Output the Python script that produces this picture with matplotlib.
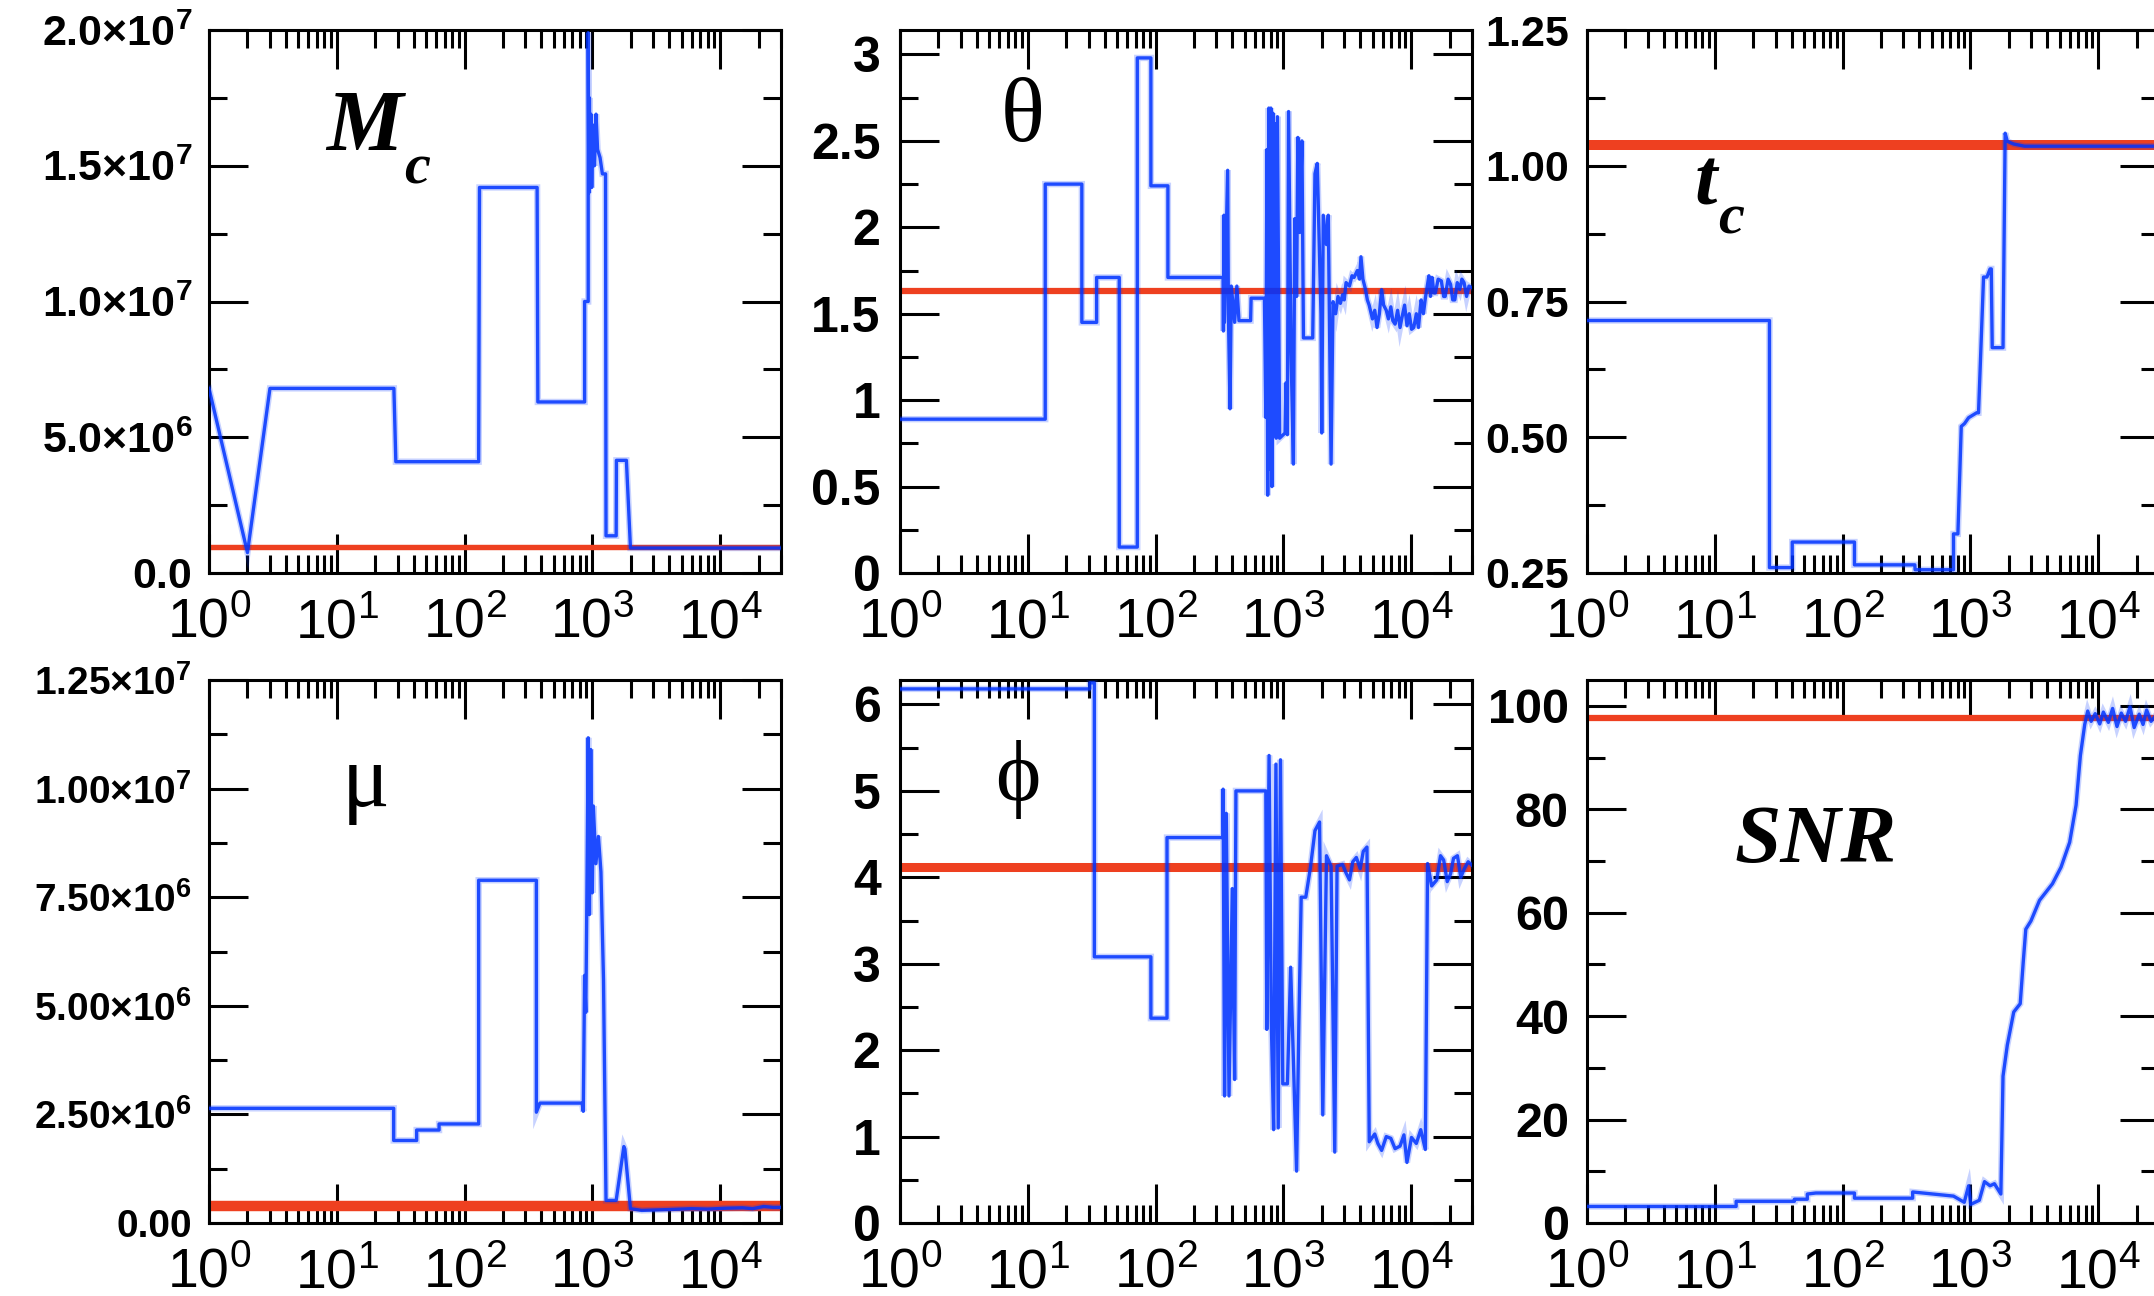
import matplotlib
matplotlib.use("Agg")
import numpy as np
import matplotlib.pyplot as plt
from matplotlib.ticker import FixedLocator, MultipleLocator, LogLocator, NullFormatter

plt.rcParams["font.family"] = ["Liberation Sans", "DejaVu Sans"]
plt.rcParams["mathtext.default"] = "regular"

W, H = 2154, 1296
BLUE = "#0033ff"
RED = "#ee4020"

# iteration axis, shared by all panels
XMIN, XMAX = 1, 3e4
XTICKS = [1, 10, 100, 1000, 10000]
XTICKLABELS = [r"$10^{0}$", r"$10^{1}$", r"$10^{2}$", r"$10^{3}$", r"$10^{4}$"]

# chirp mass (units of 1e6)
mc_x = [1, 2.0, 3.0, 28, 29, 129, 131, 370, 375, 871, 871, 929, 929, 940, 950, 960,
        975, 990, 1010, 1040, 1070, 1100, 1150, 1200, 1270, 1281, 1538, 1545, 1849,
        1990, 30000]
mc_y = [6.8, 0.75, 6.8, 6.8, 4.1, 4.1, 14.2, 14.2, 6.3, 6.3, 10.0, 10.0, 19.9, 14.0,
        17.5, 14.5, 16.9, 14.2, 16.5, 15.0, 16.9, 15.6, 15.3, 14.7, 14.7, 1.37, 1.37,
        4.15, 4.15, 0.92, 0.92]
mc_true = 0.95

# theta
th_x = [1, 13.7, 13.7, 26.5, 26.5, 34.6, 34.6, 52, 52, 72, 72, 92, 92, 125, 125, 338,
        340, 343, 346, 367, 372, 383, 392, 416, 433, 450, 555, 560, 712, 730, 745, 755,
        770, 785, 800, 815, 830, 845, 860, 880, 900, 936, 1033, 1050, 1077, 1100, 1150,
        1200, 1230, 1271, 1300, 1346, 1400, 1438, 1700, 1770, 1845, 1972, 2000, 2055,
        2178, 2250, 2366, 2450, 2570, 2680, 2800, 2911, 3000, 3100, 3297, 3450, 3581,
        3800, 3950, 4055, 4200, 4403, 4550, 4700, 4987, 5200, 5418, 5650, 5885, 6100,
        6400, 6650, 6947, 7200, 7500, 7850, 8200, 8500, 8900, 9300, 9680, 10100, 10500,
        11000, 11430, 11800, 12000, 12500, 12940, 13400, 13800, 14200, 14630, 15100,
        15500, 16300, 17270, 18000, 18500, 19500, 20390, 21200, 22000, 23000, 24070,
        25000, 26000, 27200, 28400, 30000]
th_y = [0.89, 0.89, 2.25, 2.25, 1.45, 1.45, 1.71, 1.71, 0.15, 0.15, 2.98, 2.98, 2.24,
        2.24, 1.71, 1.71, 1.40, 2.07, 1.45, 2.33, 1.50, 0.95, 1.66, 1.45, 1.66, 1.46,
        1.46, 1.59, 1.59, 0.90, 2.45, 0.45, 2.69, 0.60, 2.69, 0.50, 2.66, 0.80, 2.60,
        0.78, 2.64, 0.78, 0.81, 1.10, 0.80, 2.67, 1.28, 0.63, 2.05, 1.60, 2.52, 1.97,
        2.50, 1.36, 1.36, 2.31, 2.37, 1.50, 0.81, 2.07, 1.90, 2.07, 0.63, 1.57, 1.50,
        1.60, 1.56, 1.61, 1.58, 1.68, 1.66, 1.72, 1.71, 1.75, 1.70, 1.83, 1.70, 1.64,
        1.58, 1.55, 1.47, 1.52, 1.42, 1.50, 1.64, 1.55, 1.52, 1.47, 1.54, 1.46, 1.44,
        1.52, 1.42, 1.48, 1.55, 1.43, 1.50, 1.41, 1.42, 1.50, 1.42, 1.53, 1.58, 1.50,
        1.59, 1.66, 1.72, 1.60, 1.71, 1.62, 1.62, 1.70, 1.69, 1.60, 1.60, 1.70, 1.67,
        1.58, 1.58, 1.68, 1.64, 1.70, 1.68, 1.60, 1.66, 1.65]
th_true = 1.63

# coalescence time
tc_x = [1, 26.8, 26.8, 40.4, 40.4, 124, 124, 368, 370, 739, 739, 800, 850, 900, 970,
        1120, 1160, 1270, 1350, 1428, 1460, 1485, 1804, 1875, 1949, 2188, 2656, 30000]
tc_y = [0.715, 0.715, 0.260, 0.260, 0.307, 0.307, 0.265, 0.265, 0.256, 0.256, 0.322,
        0.322, 0.52, 0.525, 0.536, 0.545, 0.545, 0.795, 0.795, 0.81, 0.81, 0.665, 0.665,
        1.06, 1.045, 1.040, 1.036, 1.036]
tc_true = 1.039

# reduced mass (units of 1e6)
mu_x = [1, 27.9, 27.9, 42.2, 42.2, 63.2, 63.2, 129, 129, 365, 365, 389, 832, 850, 871,
        890, 904, 929, 950, 973, 1000, 1019, 1067, 1117, 1169, 1224, 1281, 1538, 1766,
        1800, 1990, 2434, 4000, 6000, 8000, 11000, 15000, 18000, 22000, 26000, 30000]
mu_y = [2.64, 2.64, 1.90, 1.90, 2.14, 2.14, 2.28, 2.28, 7.89, 7.89, 2.55, 2.76, 2.76,
        2.57, 5.7, 4.85, 7.0, 11.17, 7.1, 10.9, 7.6, 9.6, 8.27, 8.9, 8.08, 5.6, 0.52,
        0.52, 1.76, 1.70, 0.33, 0.29, 0.31, 0.33, 0.32, 0.34, 0.35, 0.33, 0.38, 0.36,
        0.36]
mu_true = 0.40

# phase
ph_x = [1, 30.6, 30.6, 33.2, 33.2, 92, 92, 123, 123, 338, 338, 347, 358, 376, 399, 416,
        426, 730, 743, 774, 806, 840, 876, 913, 951, 991, 1077, 1142, 1199, 1271, 1325,
        1381, 1500, 1630, 1770, 1923, 2038, 2178, 2366, 2529, 2636, 2911, 3100, 3297,
        3500, 3733, 4000, 4226, 4518, 4707, 5199, 5500, 5885, 6400, 6947, 7500, 8200,
        8800, 9288, 10080, 11000, 11910, 12940, 13470, 14500, 15900, 17000, 18000,
        19200, 20390, 21500, 23080, 24500, 26140, 28000, 30000]
ph_y = [6.18, 6.18, 6.25, 6.25, 3.08, 3.08, 2.37, 2.37, 4.46, 4.46, 5.02, 1.47, 4.74,
        1.47, 3.87, 1.66, 5.0, 5.0, 2.24, 5.41, 2.33, 1.08, 5.31, 1.10, 5.36, 1.61, 1.61,
        2.96, 1.90, 0.60, 2.33, 3.77, 3.77, 4.11, 4.54, 4.64, 1.25, 4.25, 4.13, 0.82,
        4.13, 4.15, 4.05, 3.97, 4.18, 4.23, 4.10, 4.30, 4.35, 0.94, 1.03, 0.92, 0.84,
        1.00, 0.98, 0.86, 0.89, 1.02, 0.70, 0.99, 0.92, 1.08, 0.85, 4.16, 3.90, 3.97,
        4.25, 4.20, 3.95, 4.04, 4.22, 4.25, 4.00, 4.10, 4.18, 4.14]
ph_true = 4.12

# signal-to-noise ratio
snr_x = [1, 14.7, 14.7, 42, 42, 53, 53, 61.8, 124, 124, 354, 354, 739, 897, 970, 1007,
         1177, 1292, 1428, 1545, 1735, 1804, 1949, 2188, 2459, 2596, 2719, 2983, 3484,
         4397, 5131, 5994, 6730, 7275, 7866, 8300, 8835, 9500, 10310, 11000, 12050,
         13000, 14070, 15200, 16420, 17800, 19180, 21000, 22500, 24000, 26000, 28000,
         30000]
snr_y = [3.2, 3.2, 4.2, 4.2, 4.6, 4.6, 5.6, 5.8, 5.8, 4.8, 4.8, 6.0, 5.2, 4.0, 7.2, 3.6,
         4.4, 8.0, 7.2, 7.6, 5.6, 28.4, 34.4, 40.8, 42.4, 50.4, 56.8, 58.4, 62.4, 65.6,
         68.8, 73.6, 80.8, 90.4, 96.4, 99.0, 97.0, 98.5, 96.5, 98.8, 96.8, 99.5, 96.0,
         98.6, 97.0, 99.8, 95.8, 98.4, 96.4, 99.2, 97.0, 98.0, 97.3]
snr_true = 97.6

fig = plt.figure(figsize=(W / 100, H / 100), dpi=100)


def add_panel(left, top, width=572, height=543):
    return fig.add_axes([left / W, 1 - (top + height) / H, width / W, height / H])


def style_panel(ax, ylim, yticks, ylabels, yminor, ysize, yweight, ypad):
    ax.set_xscale("log")
    ax.set_xlim(XMIN, XMAX)
    ax.xaxis.set_major_locator(FixedLocator(XTICKS))
    ax.xaxis.set_minor_locator(LogLocator(base=10, subs=range(2, 10), numticks=50))
    ax.xaxis.set_minor_formatter(NullFormatter())
    ax.set_xticklabels(XTICKLABELS)
    ax.set_ylim(*ylim)
    ax.yaxis.set_major_locator(FixedLocator(yticks))
    ax.yaxis.set_minor_locator(MultipleLocator(yminor))
    ax.set_yticklabels(ylabels, fontsize=ysize, fontweight=yweight)
    ax.tick_params(which="both", direction="in", top=True, right=True, width=2.2)
    ax.tick_params(which="major", length=28)
    ax.tick_params(which="minor", length=13)
    ax.tick_params(axis="x", labelsize=40, pad=18)
    ax.tick_params(axis="y", pad=ypad)
    for s in ax.spines.values():
        s.set_linewidth(2.2)


def draw(ax, x, y, true_val, red_lw):
    ax.axhline(true_val, color=RED, lw=red_lw, zorder=2)
    # soft edge around the chain trace
    ax.plot(x, y, color=BLUE, lw=4.6, alpha=0.22, zorder=3, solid_joinstyle="miter")
    ax.plot(x, y, color=BLUE, lw=2.4, alpha=0.85, zorder=4)


serif = ["Liberation Serif", "DejaVu Serif"]

# M_c
ax = add_panel(209, 30)
draw(ax, mc_x, np.array(mc_y) * 1e6, mc_true * 1e6, 3.9)
style_panel(ax, (0, 2e7), [0, 5e6, 1e7, 1.5e7, 2e7],
            ["0.0", r"$5.0{×}10^{6}$", r"$1.0{×}10^{7}$", r"$1.5{×}10^{7}$", r"$2.0{×}10^{7}$"],
            2.5e6, 31, "bold", 12)
ax.text(0.272, 0.779, "M", transform=ax.transAxes, ha="center", va="baseline",
        fontsize=62, family=serif, style="italic", weight="bold")
ax.text(0.364, 0.718, "c", transform=ax.transAxes, ha="center", va="baseline",
        fontsize=42, family=serif, style="italic", weight="bold")

# theta
ax = add_panel(900, 30)
draw(ax, th_x, th_y, th_true, 4.5)
style_panel(ax, (0, np.pi), [0, 0.5, 1, 1.5, 2, 2.5, 3],
            ["0", "0.5", "1", "1.5", "2", "2.5", "3"], 0.25, 36, "bold", 14)
ax.text(0.214, 0.796, "θ", transform=ax.transAxes, ha="center", va="baseline",
        fontsize=66, family=serif)

# t_c
ax = add_panel(1587, 30)
draw(ax, tc_x, tc_y, tc_true, 7.2)
style_panel(ax, (0.25, 1.25), [0.25, 0.5, 0.75, 1.0, 1.25],
            ["0.25", "0.50", "0.75", "1.00", "1.25"], 0.125, 31, "bold", 13)
ax.text(0.208, 0.678, "t", transform=ax.transAxes, ha="center", va="baseline",
        fontsize=58, family=serif, style="italic", weight="bold")
ax.text(0.252, 0.626, "c", transform=ax.transAxes, ha="center", va="baseline",
        fontsize=42, family=serif, style="italic", weight="bold")

# mu
ax = add_panel(209, 680)
draw(ax, mu_x, np.array(mu_y) * 1e6, mu_true * 1e6, 7.5)
style_panel(ax, (0, 1.25e7), [0, 2.5e6, 5e6, 7.5e6, 1e7, 1.25e7],
            ["0.00", r"$2.50{×}10^{6}$", r"$5.00{×}10^{6}$", r"$7.50{×}10^{6}$",
             r"$1.00{×}10^{7}$", r"$1.25{×}10^{7}$"],
            1.25e6, 28, "bold", 12)
ax.text(0.273, 0.768, "μ", transform=ax.transAxes, ha="center", va="baseline",
        fontsize=64, family=serif)

# phi
ax = add_panel(900, 680)
draw(ax, ph_x, ph_y, ph_true, 6.5)
style_panel(ax, (0, 2 * np.pi), [0, 1, 2, 3, 4, 5, 6],
            ["0", "1", "2", "3", "4", "5", "6"], 0.5, 36, "bold", 14)
ax.text(0.205, 0.779, "ϕ", transform=ax.transAxes, ha="center", va="baseline",
        fontsize=62, family=serif)

# SNR
ax = add_panel(1587, 680)
draw(ax, snr_x, snr_y, snr_true, 4.5)
style_panel(ax, (0, 105), [0, 20, 40, 60, 80, 100],
            ["0", "20", "40", "60", "80", "100"], 10, 35, "bold", 13)
ax.text(0.399, 0.665, "SNR", transform=ax.transAxes, ha="center", va="baseline",
        fontsize=60, family=serif, style="italic", weight="bold")

fig.savefig("out.png", dpi=100)
